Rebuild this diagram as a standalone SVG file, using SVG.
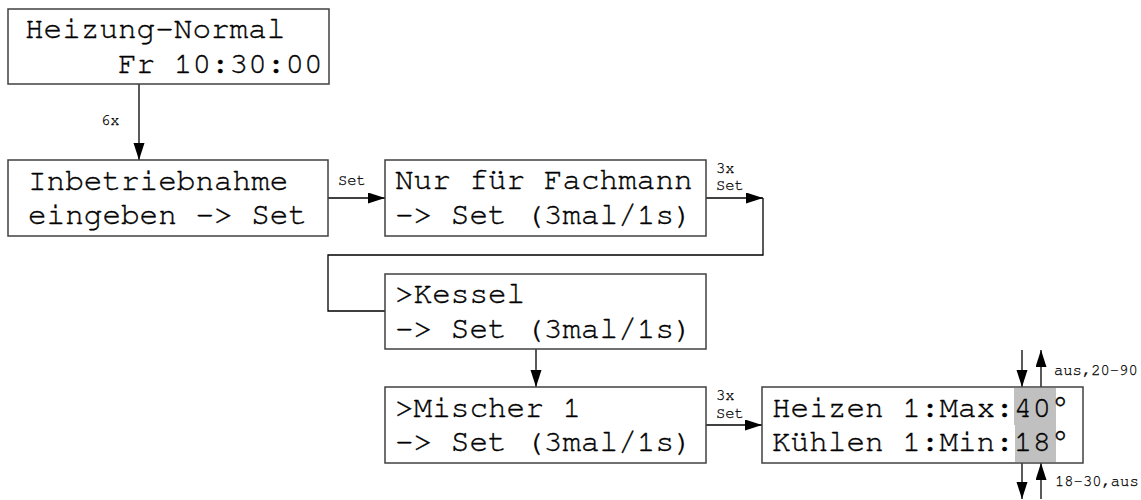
<svg xmlns="http://www.w3.org/2000/svg" width="1141" height="500" viewBox="0 0 1141 500">
<style>
.box{fill:#fff;stroke:#404040;stroke-width:1.5}
.t{font-family:"Nimbus Mono PS","FreeMono","Courier New","Liberation Mono",monospace;font-size:31px;fill:#000;stroke:#000;stroke-width:0.35}
.s{font-family:"Nimbus Mono PS","FreeMono","Courier New","Liberation Mono",monospace;font-size:15.5px;fill:#000;stroke:#000;stroke-width:0.25}
.c{fill:none;stroke:#000;stroke-width:1.3}
.hl{fill:#c0c0c0}
</style>
<defs>
<marker id="ah" markerUnits="userSpaceOnUse" markerWidth="18" markerHeight="12" refX="17" refY="5.5" orient="auto">
<path d="M0,0 L17,5.5 L0,11 Z" fill="#000"/>
</marker>
</defs>
<rect width="1141" height="500" fill="#fff"/>
<g id="connectors">
<line class="c" x1="139" y1="84" x2="139" y2="160" marker-end="url(#ah)"/>
<line class="c" x1="328" y1="198" x2="385" y2="198" marker-end="url(#ah)"/>
<line class="c" x1="706" y1="198" x2="763" y2="198" marker-end="url(#ah)"/>
<polyline class="c" points="763,198 763,255 328,255 328,311 385,311"/>
<line class="c" x1="536" y1="349" x2="536" y2="387" marker-end="url(#ah)"/>
<line class="c" x1="706" y1="425" x2="762" y2="425" marker-end="url(#ah)"/>
<line class="c" x1="1022" y1="350" x2="1022" y2="387" marker-end="url(#ah)"/>
<line class="c" x1="1041" y1="387" x2="1041" y2="350" marker-end="url(#ah)"/>
<line class="c" x1="1022" y1="463" x2="1022" y2="499" marker-end="url(#ah)"/>
<line class="c" x1="1041" y1="499" x2="1041" y2="463" marker-end="url(#ah)"/>
<text class="s" x="101" y="125">6x</text>
<text class="s" x="338" y="185">Set</text>
<text class="s" x="716" y="173">3x</text>
<text class="s" x="716" y="190">Set</text>
<text class="s" x="716" y="400">3x</text>
<text class="s" x="716" y="418">Set</text>
<text class="s" x="1054" y="375">aus,20-90</text>
<text class="s" x="1055" y="486">18-30,aus</text>
</g>
<g id="n1">
<rect class="box" x="8" y="9" width="321" height="75"/>
<text class="t" x="25" y="38">Heizung-Normal</text>
<text class="t" x="118" y="73">Fr 10:30:00</text>
</g>
<g id="n2">
<rect class="box" x="8" y="160" width="320" height="76"/>
<text class="t" x="28" y="190">Inbetriebnahme</text>
<text class="t" x="28" y="224">eingeben -&gt; Set</text>
</g>
<g id="n3">
<rect class="box" x="385" y="160" width="321" height="76"/>
<text class="t" x="395" y="189">Nur für Fachmann</text>
<text class="t" x="395" y="224">-&gt; Set (3mal/1s)</text>
</g>
<g id="n4">
<rect class="box" x="385" y="274" width="321" height="75"/>
<text class="t" x="395" y="303">&gt;Kessel</text>
<text class="t" x="395" y="338">-&gt; Set (3mal/1s)</text>
</g>
<g id="n5">
<rect class="box" x="385" y="387" width="321" height="76"/>
<text class="t" x="395" y="417">&gt;Mischer 1</text>
<text class="t" x="395" y="451">-&gt; Set (3mal/1s)</text>
</g>
<g id="n6">
<rect class="box" x="762" y="387" width="321" height="76"/>
<rect class="hl" x="1014" y="388" width="42" height="37"/>
<rect class="hl" x="1015" y="425" width="41" height="37"/>
<text class="t" x="772" y="417">Heizen 1:Max:40°</text>
<text class="t" x="772" y="451">Kühlen 1:Min:18°</text>
</g>
</svg>
